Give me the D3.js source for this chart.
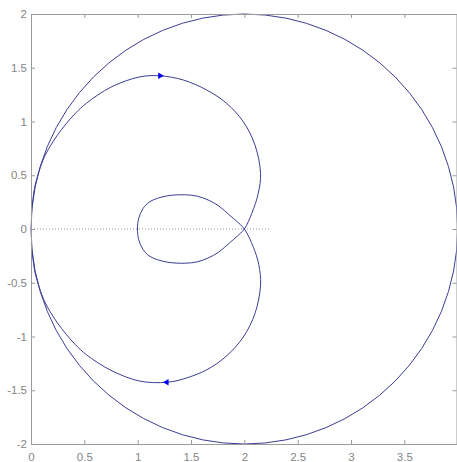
<!DOCTYPE html>
<html>
<head>
<script src="https://d3js.org/d3.v7.min.js"></script>
<style>
body {margin:0; background:#fff;}
.tick text {font-family:"Liberation Sans", Arial, sans-serif; font-size:11.5px; fill:#858585;}
.domain, .tick line {stroke:#9a9a9a;}
</style>
</head>
<body>
<div id="myDiv"></div>
<script>
// x ticks / y ticks
var xTicks = [0, 0.5, 1, 1.5, 2, 2.5, 3, 3.5, 4];
var yTicks = [-2, -1.5, -1, -0.5, 0, 0.5, 1, 1.5, 2];

// big circle: centre and radius
var circle = {cx: 2, cy: 0, r: 2};

// curve points (x, y) in drawing order
var curveX = [0.003, 0.035, 0.09, 0.13, 0.18, 0.245, 0.33, 0.42, 0.52, 0.75, 1.02, 1.21, 1.428, 1.647, 1.834, 1.99, 2.10, 2.152, 2.13, 2.07, 2.0,
              1.93, 1.86, 1.76, 1.66, 1.56, 1.45, 1.27, 1.115, 1.05, 1.01, 0.998, 1.01, 1.05, 1.115, 1.27, 1.45, 1.56, 1.66, 1.76, 1.86, 1.93, 2.0,
              2.085, 2.135, 2.152, 2.10, 1.99, 1.834, 1.647, 1.428, 1.272, 1.02, 0.75, 0.52, 0.42, 0.33, 0.245, 0.18, 0.13, 0.09, 0.035, 0.003];
var curveY = [0.13, 0.39, 0.58, 0.68, 0.77, 0.87, 0.98, 1.08, 1.17, 1.32, 1.415, 1.425, 1.386, 1.293, 1.169, 0.998, 0.78, 0.518, 0.33, 0.146, 0.0,
              -0.07, -0.13, -0.215, -0.27, -0.305, -0.318, -0.307, -0.255, -0.19, -0.1, 0.0, 0.1, 0.19, 0.255, 0.307, 0.318, 0.305, 0.27, 0.215, 0.13, 0.07, 0.0,
              -0.17, -0.33, -0.52, -0.785, -1.005, -1.18, -1.31, -1.395, -1.426, -1.415, -1.315, -1.17, -1.08, -0.98, -0.87, -0.77, -0.68, -0.58, -0.39, -0.13];

// arrow heads: x, y, direction
var arrowX = [1.21, 1.272];
var arrowY = [1.425, -1.426];
var arrowDir = [90, -90];

// dotted reference line
var refX = [0, 2.24];
var refY = [0, 0];

var W = 457, H = 462;
var mLeft = 31, mTop = 14, mRight = 457, mBottom = 444;

var xScale = d3.scaleLinear().domain([0, 4]).range([mLeft, mRight + 0.7]);
var yScale = d3.scaleLinear().domain([-2, 2]).range([mBottom, mTop]);

var svg = d3.select("#myDiv").append("svg")
	.attr("width", W)
	.attr("height", H);

// circle
svg.append("ellipse")
	.attr("cx", xScale(circle.cx))
	.attr("cy", yScale(circle.cy))
	.attr("rx", xScale(circle.cx + circle.r) - xScale(circle.cx))
	.attr("ry", yScale(circle.cy) - yScale(circle.cy + circle.r))
	.attr("fill", "none")
	.attr("stroke", "#3c3c96")
	.attr("stroke-width", 1);

// dotted line
svg.append("line")
	.attr("x1", xScale(refX[0])).attr("y1", yScale(refY[0]))
	.attr("x2", xScale(refX[1])).attr("y2", yScale(refY[1]))
	.attr("stroke", "#999")
	.attr("stroke-dasharray", "1,2");

// curve
var pts = curveX.map(function(d, i) { return [d, curveY[i]]; });
var line = d3.line()
	.x(function(d) { return xScale(d[0]); })
	.y(function(d) { return yScale(d[1]); })
	.curve(d3.curveCatmullRom);

svg.append("path")
	.datum(pts)
	.attr("d", line)
	.attr("fill", "none")
	.attr("stroke", "#3c3c96")
	.attr("stroke-width", 1);

// arrows
svg.selectAll(".arrow").data(arrowX).enter()
	.append("path")
	.attr("class", "arrow")
	.attr("d", d3.symbol().type(d3.symbolTriangle).size(18))
	.attr("transform", function(d, i) {
		return "translate(" + xScale(d) + "," + yScale(arrowY[i]) + ") rotate(" + arrowDir[i] + ")";
	})
	.attr("fill", "#0000ee");

// axes
var xaxis = d3.axisBottom(xScale).tickValues(xTicks).tickSize(-4).tickPadding(9)
	.tickFormat(function(d) { return d == 4 ? "" : d; });
var xaxisTop = d3.axisTop(xScale).tickValues(xTicks).tickSize(-4).tickFormat("");
var yaxis = d3.axisLeft(yScale).tickValues(yTicks).tickSize(-4).tickPadding(4)
	.tickFormat(function(d) { return String(d); });
var yaxisRight = d3.axisRight(yScale).tickValues(yTicks).tickSize(-4).tickFormat("");

svg.append("g").attr("transform", "translate(0," + mBottom + ")").call(xaxis);
svg.append("g").attr("transform", "translate(0," + mTop + ")").call(xaxisTop);
svg.append("g").attr("transform", "translate(" + mLeft + ",0)").call(yaxis);
svg.append("g").attr("transform", "translate(" + (mRight - 0.5) + ",0)").call(yaxisRight);

svg.selectAll(".domain").attr("stroke-width", 1);
svg.selectAll(".tick text").attr("fill", "#858585");
</script>
</body>
</html>
